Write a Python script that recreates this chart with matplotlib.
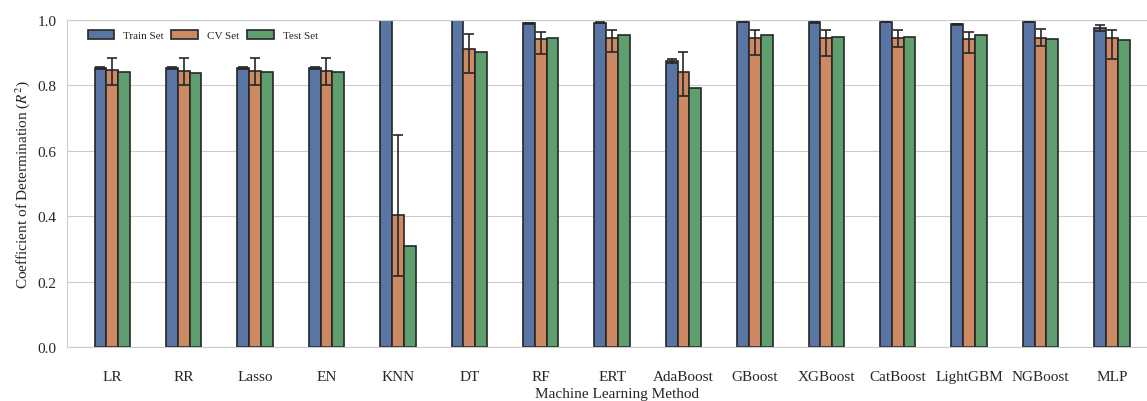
import numpy as np
import matplotlib
matplotlib.use("Agg")
import matplotlib.pyplot as plt
import seaborn as sns

methods = ["LR", "RR", "Lasso", "EN", "KNN", "DT", "RF", "ERT", "AdaBoost",
           "GBoost", "XGBoost", "CatBoost", "LightGBM", "NGBoost", "MLP"]

train_r2 = [0.853, 0.853, 0.853, 0.853, 1.000, 1.000, 0.990, 0.992, 0.875,
            0.995, 0.993, 0.995, 0.987, 0.994, 0.974]
train_err = [0.004, 0.004, 0.004, 0.004, 0.0, 0.0, 0.001, 0.001, 0.006,
             0.001, 0.001, 0.001, 0.002, 0.001, 0.009]

cv_r2 = [0.846, 0.845, 0.845, 0.845, 0.404, 0.912, 0.941, 0.944, 0.842,
         0.945, 0.946, 0.946, 0.941, 0.946, 0.945]
cv_err_low = [0.045, 0.045, 0.045, 0.045, 0.188, 0.075, 0.046, 0.043, 0.074,
              0.052, 0.057, 0.029, 0.043, 0.026, 0.066]
cv_err_high = [0.038, 0.039, 0.039, 0.039, 0.245, 0.046, 0.022, 0.026, 0.060,
               0.025, 0.022, 0.023, 0.023, 0.025, 0.025]

test_r2 = [0.840, 0.839, 0.840, 0.840, 0.309, 0.902, 0.946, 0.954, 0.793,
           0.953, 0.949, 0.948, 0.955, 0.943, 0.940]

sns.set_style("whitegrid")
plt.rcParams["font.family"] = ["Liberation Serif", "DejaVu Serif"]
plt.rcParams["mathtext.fontset"] = "stix"

# seaborn barplot look: deep palette desaturated a bit
colors = [sns.desaturate(c, 0.75) for c in sns.color_palette("deep", 3)]
x = np.arange(len(methods))
w = 0.165
edge = "#262626"

fig = plt.figure(figsize=(11.47, 4.02), dpi=100)
ax = fig.add_axes([0.058, 0.134, 0.96, 0.814])

errkw = dict(ecolor=edge, elinewidth=1.2, capsize=3.5, capthick=1.2)
ax.bar(x - w, train_r2, w, yerr=train_err, color=colors[0], edgecolor=edge,
       linewidth=1.2, label="Train Set", error_kw=errkw, zorder=2)
ax.bar(x, cv_r2, w, yerr=[cv_err_low, cv_err_high], color=colors[1],
       edgecolor=edge, linewidth=1.2, label="CV Set", error_kw=errkw, zorder=2)
ax.bar(x + w, test_r2, w, color=colors[2], edgecolor=edge, linewidth=1.2,
       label="Test Set", zorder=2)

ax.set_xticks(x)
ax.set_xticklabels(methods, fontsize=11)
ax.set_ylim(0, 1.0)
ax.set_yticks(np.arange(0, 1.01, 0.2))
ax.set_yticklabels([f"{v:.1f}" for v in np.arange(0, 1.01, 0.2)], fontsize=11)
ax.set_xlim(-0.64, 14.78)
ax.grid(axis="x", visible=False)
ax.tick_params(axis="x", pad=13)
ax.set_xlabel("Machine Learning Method", fontsize=11, labelpad=3)
ax.set_ylabel("Coefficient of Determination ($R^2$)", fontsize=11)

ax.legend(loc="upper left", ncol=3, frameon=False, fontsize=8,
          handlelength=2.4, handleheight=0.9, columnspacing=0.7,
          bbox_to_anchor=(0.01, 1.0))

fig.savefig("out.png", dpi=100)
